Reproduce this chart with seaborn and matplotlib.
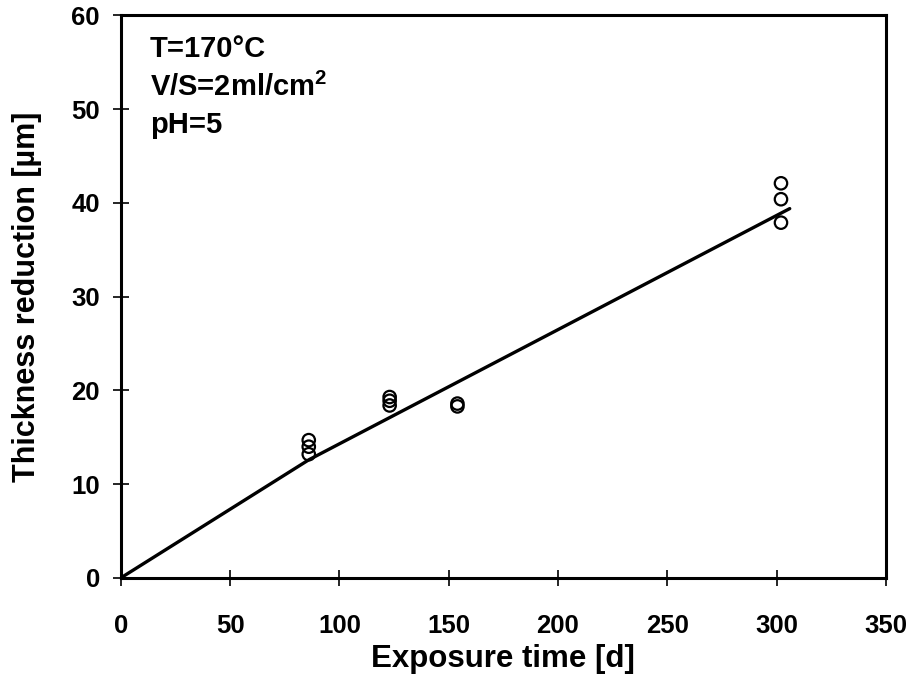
import matplotlib
matplotlib.use("Agg")
import matplotlib.pyplot as plt
import seaborn as sns
import pandas as pd

# Measured thickness reduction (three specimens per exposure time)
exposure_days = [86, 86, 86, 123, 123, 123, 154, 154, 302, 302, 302]
thickness_um = [14.7, 14.0, 13.2, 19.3, 18.9, 18.4, 18.6, 18.3, 42.1, 40.4, 37.9]

# Fitted corrosion curve
fit_days = [0, 86, 306]
fit_um = [0, 12.6, 39.4]

x_ticks = [0, 50, 100, 150, 200, 250, 300, 350]
y_ticks = [0, 10, 20, 30, 40, 50, 60]

sns.set_style("ticks")
plt.rcParams["font.family"] = ["Liberation Sans", "DejaVu Sans"]
plt.rcParams["font.weight"] = "bold"
plt.rcParams["mathtext.fontset"] = "custom"
plt.rcParams["mathtext.bf"] = "Liberation Sans:bold"
for key in ("text.color", "axes.labelcolor", "xtick.color", "ytick.color", "axes.edgecolor"):
    plt.rcParams[key] = "black"

fig = plt.figure(figsize=(9.12, 6.98), dpi=100)
ax = fig.add_axes([0.1324, 0.172, 0.839, 0.8058])

meas = pd.DataFrame({"t": exposure_days, "d": thickness_um})
fit = pd.DataFrame({"t": fit_days, "d": fit_um})

sns.lineplot(data=fit, x="t", y="d", ax=ax, color="black", linewidth=2.4,
             sort=False, estimator=None)
sns.scatterplot(data=meas, x="t", y="d", ax=ax, marker="o", s=80,
                facecolor="none", edgecolor="black", linewidth=1.6, zorder=3)

ax.set_xlim(0, 350)
ax.set_ylim(0, 60)
ax.set_xticks(x_ticks)
ax.set_yticks(y_ticks)
ax.tick_params(direction="inout", length=12, width=1.2, labelsize=18.5)
ax.tick_params(axis="x", pad=20)
ax.tick_params(axis="y", pad=9)
for lbl in ax.get_xticklabels() + ax.get_yticklabels():
    lbl.set_fontweight("bold")
for sp in ax.spines.values():
    sp.set_visible(True)
    sp.set_linewidth(2.2)
    sp.set_color("black")

ax.set_xlabel("Exposure time [d]", fontsize=22.5, fontweight="bold", labelpad=4)
ax.set_ylabel("Thickness reduction [µm]", fontsize=22, fontweight="bold", labelpad=21)

ax.text(13.4, 56.4, "T=170°C", fontsize=21, fontweight="bold", va="center")
ax.text(13.4, 52.3, r"V/S=2ml/cm$^\mathbf{2}$", fontsize=21, fontweight="bold", va="center")
ax.text(13.4, 48.3, "pH=5", fontsize=21, fontweight="bold", va="center")

fig.savefig("out.png", dpi=100)
